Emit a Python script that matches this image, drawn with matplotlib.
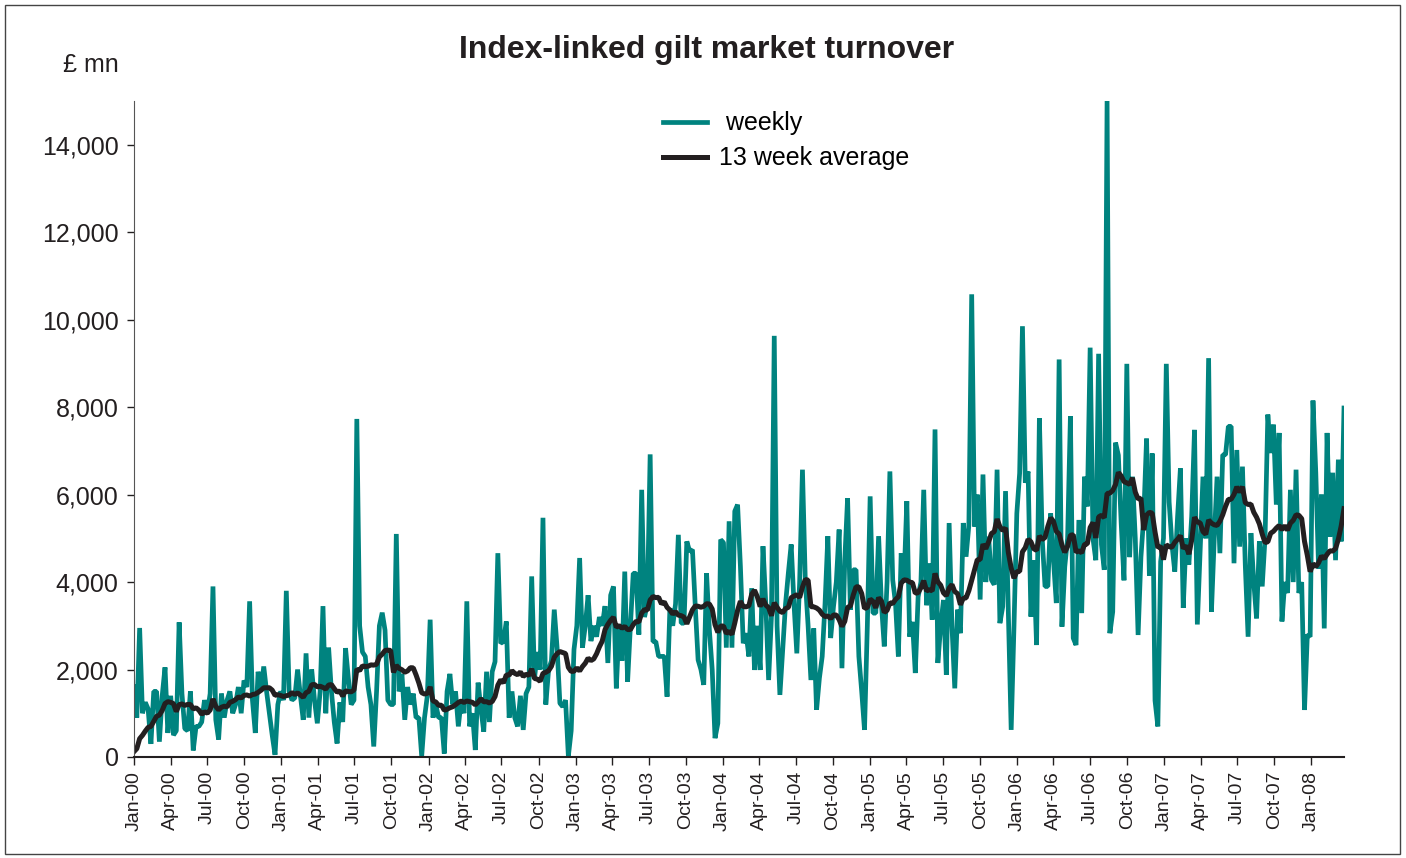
import pandas as pd
import matplotlib
matplotlib.use("Agg")
from matplotlib import pyplot as plt
from matplotlib.patches import Rectangle

plt.rcParams['font.family'] = ['Liberation Sans', 'DejaVu Sans']

# weekly turnover, £ mn, first week of Jan 2000 to late Mar 2008
weekly = [
    1600, 900, 2950, 1000, 1250, 1100, 300, 1500, 1500, 350,
    1400, 2050, 550, 1400, 500, 600, 3080, 1450, 650, 600,
    1500, 150, 700, 700, 800, 1300, 1000, 1450, 3900, 850,
    400, 1450, 900, 1300, 1500, 1000, 1200, 1600, 1000, 1750,
    1600, 3560, 1300,
    550, 1950, 1500, 2070, 1500, 1000, 500, 50, 1200,
    1500, 1300, 3800, 1500, 1300, 1350, 2000, 1400, 850, 2370,
    900, 2000, 1300, 770, 1500, 3450, 1000, 2500, 1500, 800,
    310, 1250, 800, 2490, 1800, 1200, 1300, 7730, 3000, 2400,
    2300, 1600, 1200, 240,
    1500, 3000, 3300, 2900, 1300, 1200, 1200, 5100, 1500,
    1900, 850, 1600, 1200, 1450, 900, 900, 20, 900, 1400,
    3140, 900, 1200, 900, 900, 80, 1500, 1900, 1200, 1500,
    700, 1300, 1000, 3560, 700, 1000, 160, 1700, 1100, 580,
    1950, 800, 1950,
    2180, 4660, 2600, 2640, 3100, 900, 1500, 900, 700, 1400,
    620, 1450, 1600, 4130, 1800, 2400, 2000, 5470, 1200, 2000,
    2200, 3370, 2500, 1230, 1150, 1300, 20, 600, 2460, 3000,
    4550, 2500, 3000, 3700, 2650, 3000, 2750, 3200, 3000, 3450,
    2150, 3700, 3900,
    1570, 3000, 2200, 4240, 1720, 3000, 4200, 4200, 2800,
    6110, 3200, 3500, 6920, 2640, 2640, 2300, 2300, 2300, 1380,
    3400, 3000, 3500, 5080, 3060, 3060, 4930, 4700, 4740, 3440,
    2220, 2000, 1650, 4200, 2900, 2000, 430, 770, 4970, 4900,
    2500, 5390, 2500, 5620,
    5770, 4360, 2600, 2830, 2300, 3860, 1990, 3000, 1990, 4820,
    3500, 1760, 3210, 9630, 3000, 1420, 2450, 3500, 4210, 4860,
    3500, 2370, 4000, 6570, 4050, 3000, 1760, 2940, 1080, 1800,
    2300, 3500, 5050, 2720, 3440, 4000, 5200, 2030, 4500, 5920,
    3370, 4280, 4280, 2300, 1500, 620, 3000, 5960, 3290, 3290,
    5050, 3500, 2530, 4000, 6530, 4050, 3500, 2300, 4660, 4000,
    5850, 2750, 3090, 1920, 3660, 4000, 6110, 3470, 4430, 3140,
    7490, 2150, 3000, 3590, 1880, 5350, 3000, 1570, 3370, 2830,
    5350, 4580, 5300, 10580, 5270,
    6000, 3600, 6460, 4000, 5040, 4050, 3940, 6570, 3060, 3440,
    6080, 3290, 620, 3000, 5570, 6490, 9850, 6270, 6530, 3210,
    4500, 2560, 7750, 5000, 3900, 3900, 5570, 4500, 3520, 9090,
    2980, 4350, 5000, 7790, 2720, 2560, 5420, 3290, 6410, 5730,
    9360,
    5000, 4500, 9220, 4860, 4280, 15000, 2830, 3320, 7190, 6900,
    5350, 4040, 8990, 4570, 6410, 5000, 2790, 4570, 5500, 7280,
    4140, 6940, 1290, 700, 4470, 5000, 8990, 5830, 4860, 4240,
    5500, 6600, 3410, 5000, 4400, 5500, 7480, 3030, 4750, 6410,
    5000, 9120, 3320, 5000,
    6410, 4660, 6910, 6910, 7560, 7560, 4430, 7020, 4810, 6640,
    4390, 2750, 5120, 4000, 3170, 4930, 3900, 5000, 7830, 6950,
    7600, 5770, 7410, 3100, 4000, 3750, 6110, 4000, 6570, 3750,
    4000, 1075, 2800, 2750, 8150, 6500, 4300, 6000, 2940, 7410,
    5040, 6500, 4500, 6800, 4930, 7980,
]
start = "2000-01-01"
series_labels = [" weekly", "13 week average"]
yticks = [0, 2000, 4000, 6000, 8000, 10000, 12000, 14000]
title = "Index-linked gilt market turnover"
unit = "£ mn"

dates = pd.date_range(start, periods=len(weekly), freq="7D")
# 13 week average as drawn in the chart (trailing, zero before the start)
avg = pd.Series(weekly).rolling(13, min_periods=1).sum() / 13
quarters = pd.date_range("2000-01-01", "2008-01-01", freq="QS")

fig = plt.figure(figsize=(14.06, 8.58), dpi=100)
ax = fig.add_axes([134/1406, 1-757/858, (1344-134)/1406, (757-101)/858])

ax.plot(dates, weekly, color="#00837f", lw=3.4, solid_joinstyle="bevel", label=series_labels[0])
ax.plot(dates, avg.values, color="#231f20", lw=3.6, solid_joinstyle="bevel", label=series_labels[1])

ax.set_xlim(dates[0], dates[-1])
ax.set_ylim(0, 15000)
ax.set_yticks(yticks)
ax.set_yticklabels([f"{v:,}" for v in yticks], fontsize=18)
ax.set_xticks(quarters)
ax.set_xticklabels([d.strftime("%b-%y") for d in quarters], rotation=90, fontsize=14)
ax.tick_params(axis="y", length=5, width=1, pad=6, colors="#231f20")
ax.tick_params(axis="x", length=6, width=1, pad=4, colors="#231f20")

for s in ["top", "right"]:
    ax.spines[s].set_visible(False)
ax.spines["left"].set_color("#555555")
ax.spines["bottom"].set_color("#231f20")
ax.spines["bottom"].set_linewidth(1.5)

ax.legend(loc="upper left", bbox_to_anchor=((663-134)/1210, 0.984), frameon=False,
          fontsize=18, handlelength=1.75, handletextpad=0.5, labelspacing=0.44,
          borderpad=0, borderaxespad=0)

fig.text(707/1406, 1-50/858, title, ha="center", va="center", fontsize=23, fontweight="bold", color="#231f20")
fig.text(91/1406, 1-65/858, unit, ha="center", va="center", fontsize=18, color="#231f20")

fig.patches.append(Rectangle((5/1406, 4/858), 1395/1406, 849/858, transform=fig.transFigure,
                             fill=False, ec="#444444", lw=1))

fig.savefig("out.png", dpi=100)
